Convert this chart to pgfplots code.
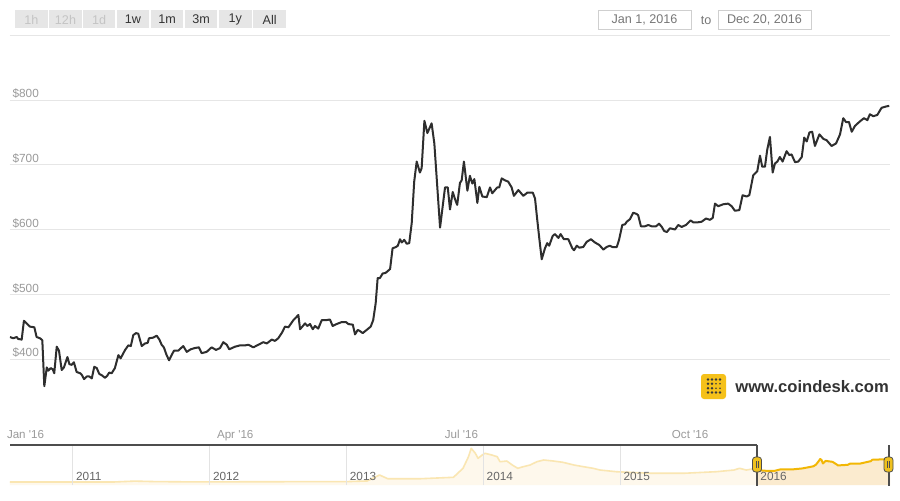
\documentclass[border=0pt]{standalone}
\usepackage{fontspec}
\setmainfont{Liberation Sans}
\usepackage{pgfplots}
\usepackage{pgfplotstable}
\pgfplotsset{compat=1.18}

\definecolor{linecol}{HTML}{2E2E2E}
\definecolor{gridgray}{HTML}{E6E6E6}
\definecolor{labgray}{HTML}{9A9A9A}
\definecolor{yeargray}{HTML}{666666}
\definecolor{navdark}{HTML}{4D4D4D}
\definecolor{navgrid}{HTML}{E3E3E3}
\definecolor{navlineA}{HTML}{FAE6B2}
\definecolor{navfillA}{HTML}{FEF8EC}
\definecolor{navlineB}{HTML}{F2B705}
\definecolor{navfillB}{HTML}{FBEBCF}
\definecolor{handle}{HTML}{EFC11E}
\definecolor{btn}{HTML}{E6E6E6}
\definecolor{btnoff}{HTML}{C4C4C4}
\definecolor{btnon}{HTML}{333333}
\definecolor{boxline}{HTML}{CFCFCF}
\definecolor{boxtext}{HTML}{777777}
\definecolor{logoyel}{HTML}{F5C11A}
\definecolor{logodot}{HTML}{3A3A3A}

\newcommand\fs[1]{\fontsize{#1}{#1}\selectfont}

% bitcoin price index, day of 2016 (0 = Jan 1) against USD
\pgfplotstableread{
day price
0.4 434
1.7 432
3.1 434
3.7 431
5.1 430
6.0 459
7.1 455
8.4 450
10.2 449
11.1 434
12.5 432
13.4 429
14.2 358
15.2 387
15.8 382
16.8 386
17.6 384
18.2 378
19.2 419
20.1 413
21.2 383
22.1 387
23.5 403
24.3 392
25.2 391
26.1 395
27.2 380
28.6 378
29.2 376
30.2 369
31.3 373
32.3 373
33.3 370
34.3 388
35.3 386
36.3 377
37.3 375
38.6 371
39.5 374
40.3 379
41.3 378
42.6 386
44.0 406
44.9 401
46.7 414
48.0 421
49.0 420
50.0 437
51.1 440
52.0 439
53.4 420
54.7 424
55.8 425
56.3 432
58.0 433
59.4 436
60.5 430
61.4 422
62.3 418
63.4 406
64.4 398
65.4 406
66.4 413
68.1 413
70.1 420
71.5 411
73.1 415
74.8 417
76.4 418
77.5 409
79.5 411
81.5 418
83.3 414
84.9 417
86.2 426
87.6 422
88.6 415
90.9 419
92.9 421
94.9 421
96.3 422
98.3 418
100.3 422
102.3 426
103.7 424
105.7 430
107.0 428
108.3 432
109.7 440
111.0 450
112.4 449
114.4 460
116.4 468
117.1 446
119.1 455
120.0 451
121.1 454
122.2 446
123.1 451
124.4 447
125.8 460
127.5 460
129.1 461
130.2 451
131.8 454
133.8 457
135.6 457
136.5 454
138.3 453
139.2 438
140.3 445
141.2 443
142.3 440
143.9 445
145.5 450
146.5 460
147.5 486
148.3 525
149.2 525
150.3 532
151.5 533
153.3 539
154.3 571
155.7 573
156.4 575
157.3 585
158.0 580
159.0 584
160.0 578
161.0 579
162.0 610
163.0 674
164.0 705
165.3 688
166.0 695
167.1 768
168.3 749
170.0 764
171.1 733
173.4 603
175.4 665
176.5 665
177.4 631
178.5 658
179.4 647
180.3 638
181.4 672
182.1 676
183.0 705
184.4 660
185.4 683
186.4 671
187.2 678
188.4 641
189.2 666
190.4 651
192.2 650
193.5 665
194.4 656
196.4 665
197.2 665
198.2 679
199.5 676
200.8 674
202.2 665
203.1 652
204.9 661
206.9 652
208.5 657
210.7 657
211.6 648
212.5 615
213.3 587
214.3 554
215.6 571
216.5 579
217.3 575
218.7 590
219.6 593
221.0 587
221.9 593
223.2 585
225.0 585
226.6 571
227.3 568
228.4 575
229.4 572
231.0 573
232.4 581
234.1 585
235.7 580
237.5 576
239.1 569
240.4 573
241.7 575
242.7 573
244.5 573
245.4 584
246.7 607
247.8 608
248.5 612
249.8 616
251.1 626
252.5 624
253.1 622
254.2 605
255.8 605
257.2 607
258.5 605
260.3 605
261.5 609
262.6 604
263.5 598
264.6 596
265.9 602
267.9 600
269.2 607
270.6 604
272.3 607
274.2 614
275.3 611
276.9 611
278.6 612
280.4 617
282.0 615
283.1 618
284.0 640
285.3 636
287.3 639
289.3 640
290.7 636
292.0 629
293.8 630
295.1 653
296.7 651
297.8 653
299.4 684
301.0 690
302.1 714
303.0 697
304.1 697
305.0 723
306.1 743
307.2 688
308.1 702
309.1 705
310.1 712
311.2 705
312.8 721
313.9 715
314.8 716
316.2 704
317.5 705
318.9 712
319.9 742
320.9 736
322.0 750
323.1 751
324.2 729
326.0 747
327.6 740
328.9 738
330.9 729
332.7 733
334.3 747
335.6 772
336.7 766
337.9 766
339.0 751
340.3 760
342.0 766
343.9 772
345.3 769
346.3 778
347.7 775
349.3 777
351.0 788
352.8 790
354.1 791
}\btc

% navigator overview, year against USD: before the selected range ...
\pgfplotstableread{
year price
2010.54 0.1
2011.00 0.3
2011.30 1
2011.45 30
2011.60 14
2011.90 3
2012.00 5
2012.60 11
2013.00 13
2013.15 35
2013.24 234
2013.30 110
2013.54 110
2013.78 157
2013.85 458
2013.89 845
2013.91 1126
2013.94 959
2013.96 792
2013.99 902
2014.01 959
2014.06 902
2014.10 845
2014.12 678
2014.17 701
2014.21 568
2014.25 458
2014.29 511
2014.34 568
2014.39 678
2014.44 735
2014.51 701
2014.58 658
2014.66 568
2014.73 511
2014.80 458
2014.85 401
2014.97 344
2015.22 291
2015.46 291
2015.70 344
2015.83 400
2015.87 458
2015.92 400
2015.97 440
2016.00 434
}\navA

% ... and the selected range (2016)
\pgfplotstableread{
year price
2016.00 434
2016.04 380
2016.09 370
2016.13 376
2016.17 422
2016.25 418
2016.33 454
2016.41 525
2016.43 585
2016.45 705
2016.46 768
2016.47 733
2016.48 620
2016.50 705
2016.55 674
2016.58 587
2016.59 554
2016.66 573
2016.68 616
2016.75 614
2016.83 697
2016.84 743
2016.88 750
2016.93 760
2016.97 791
}\navB

\begin{document}
\begin{tikzpicture}
% page frame: 1 px of the reference = 0.5pt
\useasboundingbox (0,0) rectangle (450pt,250pt);
\fill[white] (0,0) rectangle (450pt,250pt);

\begin{axis}[
  at={(5pt,39.75pt)}, anchor=south west,
  scale only axis, width=440pt, height=192.6pt,
  xmin=0.4, xmax=354.4, ymin=305, ymax=900,
  axis line style={draw=none}, tick style={draw=none}, major tick length=0pt,
  ytick={400,500,600,700,800,900},
  yticklabels={\$400,\$500,\$600,\$700,\$800,{}},
  ymajorgrids, grid style={draw=gridgray, line width=0.5pt},
  yticklabel style={anchor=south west, inner sep=0.5pt, xshift=0.6pt, font=\fs{5.9pt}, text=labgray},
  xtick={0.4,91,182,274},
  xticklabels={\makebox[0pt][l]{\hspace*{-1.5pt}Jan \textquotesingle16},Apr \textquotesingle16,Jul \textquotesingle16,Oct \textquotesingle16},
  xticklabel style={anchor=north, inner sep=0pt, yshift=-4.75pt, font=\fs{5.8pt}, text=labgray},
]
\addplot[linecol, line width=1pt, line join=round, mark=none] table[x=day, y=price] {\btc};
\end{axis}

\begin{axis}[
  at={(5pt,7.5pt)}, anchor=south west,
  scale only axis, width=440pt, height=20pt,
  xmin=2010.54, xmax=2016.97, ymin=-100, ymax=1236,
  axis line style={draw=none}, tick style={draw=none}, major tick length=0pt,
  ytick=\empty,
  xtick={2011,2012,2013,2014,2015,2016},
  xticklabels={2011,2012,2013,2014,2015,2016},
  xmajorgrids, grid style={draw=navgrid, line width=0.5pt},
  axis on top,
  xticklabel style={anchor=south west, inner sep=0.8pt, xshift=0.6pt, yshift=1pt, font=\fs{5.9pt}, text=yeargray},
]
\addplot[fill=navfillA, draw=none] table[x=year, y=price] {\navA}
  -- (axis cs:2016,-100) -- (axis cs:2010.54,-100) -- cycle;
\addplot[fill=navfillB, draw=none] table[x=year, y=price] {\navB}
  -- (axis cs:2016.97,-100) -- (axis cs:2016,-100) -- cycle;
\addplot[navlineA, line width=0.8pt, line join=round] table[x=year, y=price] {\navA};
\addplot[navlineB, line width=1pt, line join=round] table[x=year, y=price] {\navB};
\end{axis}

\begin{scope}[x=0.5pt, y=-0.5pt, yshift=250pt]
  % range buttons
  \foreach \a/\b/\t/\c in {15/47.7/1h/btnoff, 49.3/81.7/12h/btnoff, 83.3/115/1d/btnoff,
      116.7/149.3/1w/btnon, 151/183.3/1m/btnon, 185/217.3/3m/btnon, 219/251.7/1y/btnon, 253.3/286/All/btnon} {
    \fill[btn] (\a,10) rectangle (\b,28.3);
    \node[text=\c, font=\fs{6.3pt}, inner sep=0pt] at ({(\a+\b)/2},19.6) {\t};
  }
  % date range boxes
  \draw[boxline, line width=0.5pt, fill=white] (598,10) rectangle (691,29);
  \node[text=boxtext, font=\fs{6.3pt}, inner sep=0pt] at (644.5,19.8) {Jan 1, 2016};
  \node[text=boxtext, font=\fs{6.3pt}, inner sep=0pt] at (706,20.8) {to};
  \draw[boxline, line width=0.5pt, fill=white] (718,10) rectangle (811,29);
  \node[text=boxtext, font=\fs{6.3pt}, inner sep=0pt] at (764.5,19.8) {Dec 20, 2016};

  % logo and site name
  \fill[logoyel, rounded corners=1.5pt] (701,374) rectangle (726,399);
  \foreach \i in {0,1,2,3} {
    \fill[logodot] ({708+4*\i},379.5) circle[radius=0.7pt];
    \fill[logodot] ({708+4*\i},392.5) circle[radius=0.7pt];
  }
  \foreach \r in {383.8,388.2} {
    \fill[logodot] (708,\r) circle[radius=0.7pt];
    \fill[logodot] (712,\r) circle[radius=0.7pt];
    \fill[logodot] (716,\r) circle[radius=0.45pt];
    \fill[logodot] (720,\r) circle[radius=0.45pt];
  }
  \node[anchor=west, inner sep=0pt, text=btnon, font=\bfseries\fs{8.3pt}] at (735,387) {www.coindesk.com};

  % navigator frame and handles
  \draw[navdark, line width=0.6pt] (10,445) -- (757,445);
  \draw[navdark, line width=0.6pt] (757,445) -- (757,486);
  \draw[navdark, line width=0.6pt] (889,445) -- (889,486);
  \foreach \h in {757,888.5} {
    \draw[fill=handle, draw=navdark, line width=0.4pt, rounded corners=1.5pt] (\h-4.5,457) rectangle (\h+4.5,472);
    \draw[navdark, line width=0.35pt] (\h-1,461) -- (\h-1,468) (\h+1,461) -- (\h+1,468);
  }
\end{scope}
\end{tikzpicture}
\end{document}
